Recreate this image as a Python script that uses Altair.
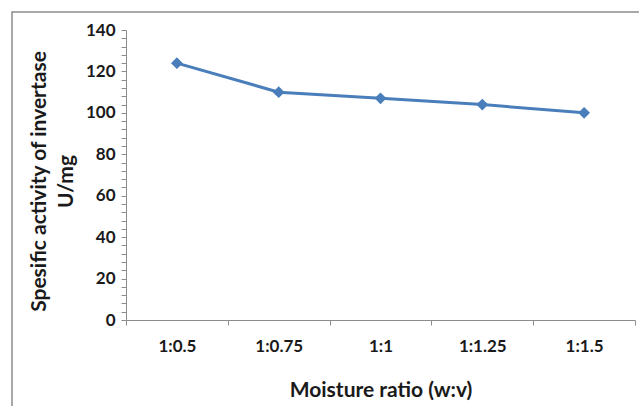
import altair as alt
import pandas as pd

ratios = ["1:0.5", "1:0.75", "1:1", "1:1.25", "1:1.5"]
activity = [124, 110, 107, 104, 100]
y_ticks = list(range(0, 141, 4))

df = pd.DataFrame({"ratio": ratios, "activity": activity})

FONT = "Lato"
BLUE = "#4a7ebb"

x_enc = alt.X(
    "ratio:N",
    sort=ratios,
    scale=alt.Scale(paddingInner=0, paddingOuter=0),
    axis=alt.Axis(
        title="Moisture ratio (w:v)",
        labelAngle=0,
        tickBand="extent",
        tickSize=5,
        labelPadding=13,
        titlePadding=25,
        domainColor="#8c8c8c",
        tickColor="#8c8c8c",
    ),
)
y_enc = alt.Y(
    "activity:Q",
    scale=alt.Scale(domain=[0, 140], nice=False),
    axis=alt.Axis(
        title=["Spesific activity of invertase", "U/mg"],
        values=y_ticks,
        labelExpr="datum.value % 20 == 0 ? datum.label : ''",
        tickSize=5,
        labelPadding=6,
        titlePadding=9,
        titleY=151,
        titleLineHeight=27,
        domainColor="#8c8c8c",
        tickColor="#8c8c8c",
        grid=False,
    ),
)

border = alt.Chart(pd.DataFrame({"a": [0]})).mark_rect(
    fill=None, stroke="#8c8c8c", strokeWidth=1.5
).encode(
    x=alt.value(-114), x2=alt.value(800), y=alt.value(-18), y2=alt.value(600)
)

line = alt.Chart(df).mark_line(color=BLUE, strokeWidth=3).encode(x=x_enc, y=y_enc)
points = alt.Chart(df).mark_point(
    shape="diamond", filled=True, color=BLUE, size=140, opacity=1
).encode(x=x_enc, y=y_enc)

chart = alt.layer(border, line, points).properties(
    width=509,
    height=290,
    autosize=alt.AutoSizeParams(type="none"),
    padding={"left": 126, "top": 30, "right": 4, "bottom": 86},
    background="white",
).configure_view(stroke=None).configure_axis(
    labelFont=FONT,
    labelFontSize=17,
    labelFontWeight="bold",
    labelColor="#1a1a1a",
    titleFont=FONT,
    titleFontSize=21,
    titleFontWeight="bold",
    titleColor="#1a1a1a",
)

chart.save("out.html", embed_options={"renderer": "svg", "actions": False})
